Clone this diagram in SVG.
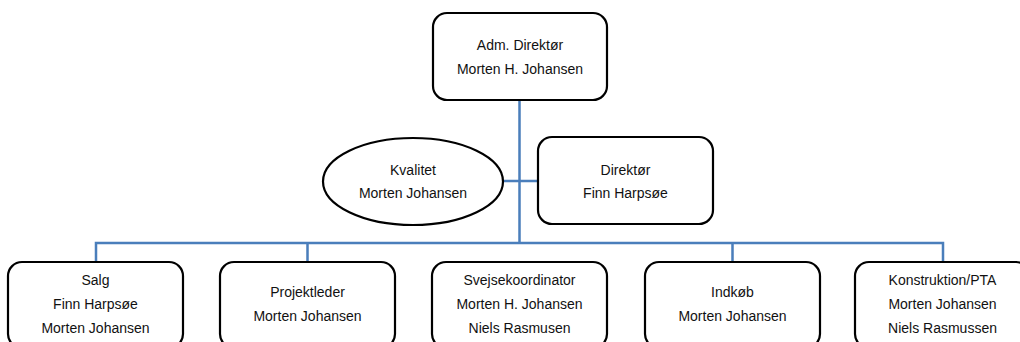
<svg xmlns="http://www.w3.org/2000/svg" width="1020" height="342" viewBox="0 0 1020 342">
<style>
.box{fill:#fff;stroke:#000;stroke-width:2.2}
.con{fill:none;stroke:#4a7ebb;stroke-width:2.5}
text{font-family:"Liberation Sans",Arial,sans-serif;font-size:14px;fill:#111;text-anchor:middle}
</style>
<rect width="1020" height="342" fill="#fff"/>
<g id="connectors">
<path class="con" d="M519.5 100V243M503 181H538M96 262V243H943V262M307.5 243V262M732.5 243V262"/>
</g>
<g id="adm"><rect class="box" x="433" y="13" width="174" height="87" rx="14"/><text x="520" y="50">Adm. Direktør</text><text x="520" y="74">Morten H. Johansen</text></g>
<g id="kvalitet"><ellipse class="box" cx="413" cy="181.5" rx="90" ry="43.5"/><text x="413" y="175">Kvalitet</text><text x="413" y="198">Morten Johansen</text></g>
<g id="direktor"><rect class="box" x="538" y="137" width="175" height="87" rx="14"/><text x="625.5" y="175">Direktør</text><text x="625.5" y="198">Finn Harpsøe</text></g>
<g id="salg"><rect class="box" x="8" y="262" width="175" height="86" rx="14"/><text x="95.5" y="285">Salg</text><text x="95.5" y="309">Finn Harpsøe</text><text x="95.5" y="333">Morten Johansen</text></g>
<g id="projektleder"><rect class="box" x="220" y="262" width="175" height="86" rx="14"/><text x="307.5" y="297">Projektleder</text><text x="307.5" y="321">Morten Johansen</text></g>
<g id="svejse"><rect class="box" x="432" y="262" width="175" height="86" rx="14"/><text x="519.5" y="285">Svejsekoordinator</text><text x="519.5" y="309">Morten H. Johansen</text><text x="519.5" y="333">Niels Rasmusen</text></g>
<g id="indkob"><rect class="box" x="645" y="262" width="175" height="86" rx="14"/><text x="732.5" y="297">Indkøb</text><text x="732.5" y="321">Morten Johansen</text></g>
<g id="konstruktion"><rect class="box" x="855" y="262" width="175" height="86" rx="14"/><text x="942.5" y="285">Konstruktion/PTA</text><text x="942.5" y="309">Morten Johansen</text><text x="942.5" y="333">Niels Rasmussen</text></g>
</svg>
